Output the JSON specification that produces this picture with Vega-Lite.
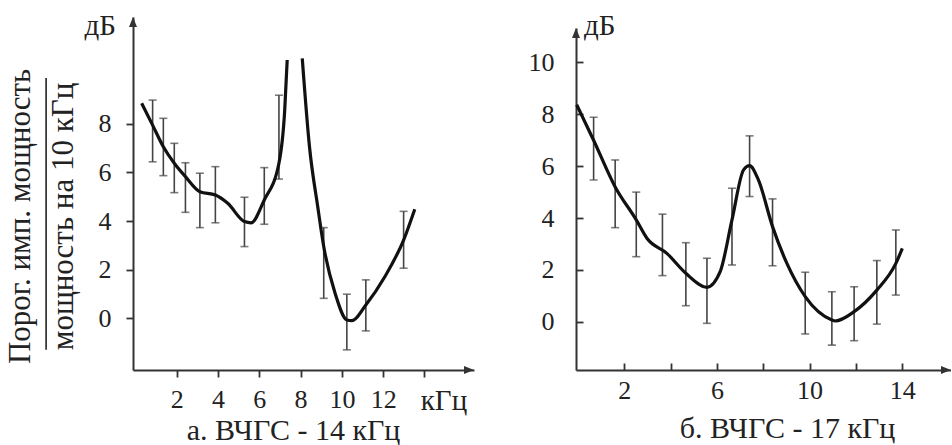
{
  "$schema": "https://vega.github.io/schema/vega-lite/v6.json",
  "padding": {"left": 4, "top": 12, "right": 0, "bottom": 0},
  "background": "white",
  "spacing": 54,
  "config": {
    "view": {"stroke": null},
    "font": "Liberation Serif",
    "axis": {
      "labelFont": "Liberation Serif", "titleFont": "Liberation Serif",
      "labelFontSize": 26, "titleFontSize": 30, "titleFontWeight": "normal",
      "labelColor": "#222", "titleColor": "#222",
      "domainColor": "#333", "domainWidth": 2, "tickColor": "#333", "tickWidth": 1.8,
      "grid": false, "labelOverlap": false, "labelFlush": false
    }
  },
  "datasets": {
    "errA": [
      {"x": 0.83, "lo": 6.44, "hi": 8.98}, {"x": 1.35, "lo": 5.87, "hi": 8.23},
      {"x": 1.88, "lo": 5.17, "hi": 7.2}, {"x": 2.42, "lo": 4.36, "hi": 6.4},
      {"x": 3.12, "lo": 3.73, "hi": 5.97}, {"x": 3.87, "lo": 3.93, "hi": 6.24},
      {"x": 5.28, "lo": 2.95, "hi": 4.98}, {"x": 6.24, "lo": 3.87, "hi": 6.2},
      {"x": 6.95, "lo": 5.73, "hi": 9.18}, {"x": 9.12, "lo": 0.82, "hi": 3.73},
      {"x": 10.24, "lo": -1.3, "hi": 0.99}, {"x": 11.16, "lo": -0.52, "hi": 1.58},
      {"x": 12.99, "lo": 2.06, "hi": 4.4}
    ],
    "curveA": [
      {"seg": 1, "x": 0.3, "y": 8.85}, {"seg": 1, "x": 0.83, "y": 7.95},
      {"seg": 1, "x": 1.35, "y": 7.06}, {"seg": 1, "x": 1.88, "y": 6.38},
      {"seg": 1, "x": 2.42, "y": 5.83}, {"seg": 1, "x": 3.12, "y": 5.21},
      {"seg": 1, "x": 3.87, "y": 5.07}, {"seg": 1, "x": 4.47, "y": 4.73},
      {"seg": 1, "x": 5.28, "y": 3.98}, {"seg": 1, "x": 5.6, "y": 3.93},
      {"seg": 1, "x": 6.24, "y": 4.87}, {"seg": 1, "x": 6.95, "y": 6.38},
      {"seg": 1, "x": 7.23, "y": 8.57}, {"seg": 1, "x": 7.35, "y": 10.63},
      {"seg": 2, "x": 8.08, "y": 10.7}, {"seg": 2, "x": 8.43, "y": 7.06},
      {"seg": 2, "x": 8.83, "y": 4.59}, {"seg": 2, "x": 9.12, "y": 2.95},
      {"seg": 2, "x": 9.67, "y": 1.03}, {"seg": 2, "x": 10.24, "y": -0.07},
      {"seg": 2, "x": 10.48, "y": -0.1}, {"seg": 2, "x": 11.16, "y": 0.55},
      {"seg": 2, "x": 12.08, "y": 1.71}, {"seg": 2, "x": 12.99, "y": 3.22},
      {"seg": 2, "x": 13.53, "y": 4.49}
    ],
    "errB": [
      {"x": 0.68, "lo": 5.47, "hi": 7.89}, {"x": 1.61, "lo": 3.63, "hi": 6.24},
      {"x": 2.52, "lo": 2.51, "hi": 5.0}, {"x": 3.65, "lo": 1.78, "hi": 4.15},
      {"x": 4.66, "lo": 0.62, "hi": 3.05}, {"x": 5.57, "lo": -0.06, "hi": 2.45},
      {"x": 6.65, "lo": 2.19, "hi": 5.15}, {"x": 7.41, "lo": 4.83, "hi": 7.17},
      {"x": 8.4, "lo": 2.16, "hi": 4.74}, {"x": 9.81, "lo": -0.47, "hi": 1.91},
      {"x": 10.96, "lo": -0.9, "hi": 1.16}, {"x": 11.92, "lo": -0.73, "hi": 1.35},
      {"x": 12.9, "lo": -0.09, "hi": 2.36}, {"x": 13.72, "lo": 1.03, "hi": 3.54}
    ],
    "curveB": [
      {"x": -0.05, "y": 8.37}, {"x": 0.68, "y": 7.0}, {"x": 1.61, "y": 5.2},
      {"x": 2.52, "y": 3.93}, {"x": 2.98, "y": 3.22}, {"x": 3.84, "y": 2.64},
      {"x": 4.66, "y": 1.87}, {"x": 5.57, "y": 1.33}, {"x": 6.14, "y": 1.93},
      {"x": 6.65, "y": 3.93}, {"x": 7.15, "y": 5.86}, {"x": 7.41, "y": 6.02},
      {"x": 7.79, "y": 5.47}, {"x": 8.4, "y": 3.67}, {"x": 9.02, "y": 2.25},
      {"x": 9.81, "y": 0.97}, {"x": 10.96, "y": 0.07}, {"x": 11.1, "y": 0.03},
      {"x": 11.92, "y": 0.39}, {"x": 12.9, "y": 1.22}, {"x": 13.72, "y": 2.25},
      {"x": 14.0, "y": 2.83}
    ],
    "unitA": [{"label": "дБ"}],
    "unitB": [{"label": "дБ"}]
  },
  "hconcat": [
    {
      "width": 341,
      "height": 353,
      "layer": [
        {
          "data": {"name": "errA"},
          "mark": {"type": "rule", "stroke": "#444", "strokeWidth": 1.6},
          "encoding": {
            "x": {
              "field": "x", "type": "quantitative",
              "scale": {"domain": [-0.12, 16.4], "nice": false, "zero": false},
              "axis": {
                "values": [2, 4, 6, 8, 10, 12, 14],
                "labelExpr": "datum.value == 14 ? 'кГц' : datum.label",
                "labelOffset": {"condition": {"test": "datum.value == 14", "value": 19}, "value": 0},
                "labelFontSize": {"condition": {"test": "datum.value == 14", "value": 29}, "value": 26},
                "tickSize": 7, "labelPadding": 9,
                "title": "а. ВЧГС - 14 кГц", "titleX": 160, "titlePadding": 0
              }
            },
            "y": {
              "field": "lo", "type": "quantitative",
              "scale": {"domain": [-2.13, 12.4], "nice": false, "zero": false},
              "axis": {
                "values": [0, 2, 4, 6, 8],
                "tickSize": 7, "labelPadding": 15,
                "title": ["Порог. имп. мощность", "мощность на 10 кГц"],
                "titleFontSize": 31,
                "titlePadding": 19, "titleLineHeight": 43, "titleY": 199
              }
            },
            "y2": {"field": "hi"}
          }
        },
        {
          "data": {"name": "errA"},
          "mark": {"type": "tick", "orient": "horizontal", "size": 8, "thickness": 1.6, "color": "#444"},
          "encoding": {"x": {"field": "x", "type": "quantitative"}, "y": {"field": "lo", "type": "quantitative"}}
        },
        {
          "data": {"name": "errA"},
          "mark": {"type": "tick", "orient": "horizontal", "size": 8, "thickness": 1.6, "color": "#444"},
          "encoding": {"x": {"field": "x", "type": "quantitative"}, "y": {"field": "hi", "type": "quantitative"}}
        },
        {
          "data": {"name": "curveA"},
          "mark": {"type": "line", "interpolate": "monotone", "stroke": "#111", "strokeWidth": 3.2},
          "encoding": {
            "x": {"field": "x", "type": "quantitative"},
            "y": {"field": "y", "type": "quantitative"},
            "detail": {"field": "seg", "type": "nominal"}
          }
        },
        {
          "data": {"name": "unitA"},
          "mark": {"type": "point", "shape": "M0,0L-0.8,2L0.8,2Z", "size": 100, "filled": true, "fill": "#333", "strokeWidth": 0, "opacity": 1},
          "encoding": {"x": {"datum": -0.12, "type": "quantitative"}, "y": {"datum": 12.4, "type": "quantitative"}}
        },
        {
          "data": {"name": "unitA"},
          "mark": {"type": "point", "shape": "M0,0L-2,-0.8L-2,0.8Z", "size": 100, "filled": true, "fill": "#333", "strokeWidth": 0, "opacity": 1},
          "encoding": {"x": {"datum": 16.4, "type": "quantitative"}, "y": {"datum": -2.13, "type": "quantitative"}}
        },
        {
          "data": {"name": "unitA"},
          "mark": {"type": "text", "font": "Liberation Serif", "fontSize": 29, "color": "#222", "align": "right", "baseline": "alphabetic", "dx": -17, "dy": 18},
          "encoding": {
            "x": {"datum": -0.12, "type": "quantitative"},
            "y": {"datum": 12.4, "type": "quantitative"},
            "text": {"field": "label"}
          }
        },
        {
          "data": {"name": "unitA"},
          "mark": {"type": "rule", "stroke": "#222", "strokeWidth": 1.6},
          "encoding": {
            "x": {"datum": -4.33, "type": "quantitative"},
            "y": {"datum": 9.89, "type": "quantitative"},
            "y2": {"datum": -1.3}
          }
        }
      ]
    },
    {
      "width": 375,
      "height": 353,
      "layer": [
        {
          "data": {"name": "errB"},
          "mark": {"type": "rule", "stroke": "#444", "strokeWidth": 1.6},
          "encoding": {
            "x": {
              "field": "x", "type": "quantitative",
              "scale": {"domain": [-0.08, 16.1], "nice": false, "zero": false},
              "axis": {
                "values": [2, 4, 6, 8, 10, 12, 14],
                "labelExpr": "datum.value % 4 == 2 ? datum.label : ''",
                "tickSize": -7, "labelPadding": 14,
                "title": "б. ВЧГС - 17 кГц", "titleX": 211, "titlePadding": 10
              }
            },
            "y": {
              "field": "lo", "type": "quantitative",
              "scale": {"domain": [-1.86, 11.33], "nice": false, "zero": false, "range": [353, 11]},
              "axis": {
                "values": [0, 2, 4, 6, 8, 10],
                "tickSize": -7, "labelPadding": 29,
                "title": null
              }
            },
            "y2": {"field": "hi"}
          }
        },
        {
          "data": {"name": "errB"},
          "mark": {"type": "tick", "orient": "horizontal", "size": 8, "thickness": 1.6, "color": "#444"},
          "encoding": {"x": {"field": "x", "type": "quantitative"}, "y": {"field": "lo", "type": "quantitative"}}
        },
        {
          "data": {"name": "errB"},
          "mark": {"type": "tick", "orient": "horizontal", "size": 8, "thickness": 1.6, "color": "#444"},
          "encoding": {"x": {"field": "x", "type": "quantitative"}, "y": {"field": "hi", "type": "quantitative"}}
        },
        {
          "data": {"name": "curveB"},
          "mark": {"type": "line", "interpolate": "monotone", "stroke": "#111", "strokeWidth": 3.2},
          "encoding": {
            "x": {"field": "x", "type": "quantitative"},
            "y": {"field": "y", "type": "quantitative"}
          }
        },
        {
          "data": {"name": "unitB"},
          "mark": {"type": "point", "shape": "M0,0L-0.8,2L0.8,2Z", "size": 100, "filled": true, "fill": "#333", "strokeWidth": 0, "opacity": 1},
          "encoding": {"x": {"datum": -0.08, "type": "quantitative"}, "y": {"datum": 11.33, "type": "quantitative"}}
        },
        {
          "data": {"name": "unitB"},
          "mark": {"type": "point", "shape": "M0,0L-2,-0.8L-2,0.8Z", "size": 100, "filled": true, "fill": "#333", "strokeWidth": 0, "opacity": 1},
          "encoding": {"x": {"datum": 16.1, "type": "quantitative"}, "y": {"datum": -1.86, "type": "quantitative"}}
        },
        {
          "data": {"name": "unitB"},
          "mark": {"type": "text", "font": "Liberation Serif", "fontSize": 29, "color": "#222", "align": "left", "baseline": "alphabetic", "dx": 8, "dy": 7},
          "encoding": {
            "x": {"datum": -0.08, "type": "quantitative"},
            "y": {"datum": 11.33, "type": "quantitative"},
            "text": {"field": "label"}
          }
        }
      ]
    }
  ]
}
